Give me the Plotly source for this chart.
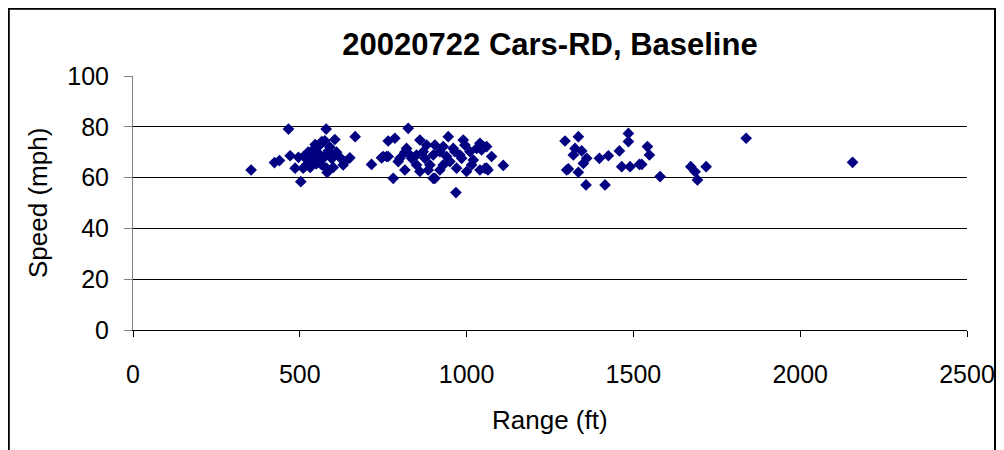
import plotly.graph_objects as go

# Range (ft) and Speed (mph)
range_ft = [
    354, 424, 439, 466, 471, 486, 496, 503, 510, 513, 520, 522, 525, 531, 535, 537,
    540, 546, 546, 549, 550, 555, 560, 560, 566, 566, 570, 575, 579, 579, 580, 582,
    585, 590, 596, 600, 605, 610, 620, 630, 635, 650, 666,
    715, 745, 750, 760, 765, 765, 780, 785, 795, 800, 815, 815, 820, 825, 825, 835,
    850, 850, 860, 860, 870, 875, 880, 885, 890, 900, 900, 905, 905, 920, 920, 930,
    930, 940, 945, 950, 960, 965, 968, 970, 980, 985, 990, 995, 1000, 1010, 1015,
    1020, 1030, 1040, 1040, 1045, 1050, 1055, 1060, 1060, 1064, 1075, 1110,
    1295, 1300, 1305, 1320, 1325, 1335, 1335, 1345, 1350, 1358, 1360, 1398, 1415,
    1425, 1458, 1465, 1485, 1485, 1490, 1518, 1525, 1542, 1548, 1580,
    1672, 1685, 1692, 1718, 1838, 2157,
]
speed_mph = [
    63.0, 65.9, 66.7, 79.1, 68.6, 63.7, 68.0, 58.4, 63.7, 68.5, 65.0, 67.0, 70.0, 64.0, 68.0, 68.5,
    71.0, 71.5, 73.0, 65.5, 65.6, 68.0, 72.8, 69.0, 74.2, 65.0, 67.6, 74.5, 79.1, 69.0, 63.7, 62.0,
    70.5, 72.0, 67.5, 64.0, 75.0, 70.0, 68.0, 65.0, 66.3, 67.8, 76.1,
    65.2, 67.8, 68.3, 68.3, 74.4, 68.3, 59.7, 75.5, 66.3, 67.6, 63.0, 70.0, 71.5, 79.4, 69.6, 67.6,
    68.9, 65.0, 74.8, 62.4, 70.2, 67.6, 72.8, 63.0, 65.0, 68.9, 59.7, 72.8, 59.7, 70.2, 63.0, 72.2,
    65.0, 68.3, 76.1, 66.3, 71.5, 70.2, 54.1, 63.7, 68.9, 67.6, 74.8, 72.8, 62.4, 70.2, 65.0,
    66.9, 71.5, 73.5, 63.0, 70.9, 72.2, 63.6, 72.2, 63.7, 63.0, 68.3, 64.8,
    74.4, 63.0, 63.4, 68.9, 71.5, 76.1, 62.1, 70.5, 65.6, 57.1, 67.6, 67.6, 57.1,
    68.6, 70.5, 64.3, 77.4, 74.2, 64.3, 65.2, 65.2, 72.2, 68.9, 60.4,
    64.3, 62.3, 59.1, 64.3, 75.5, 66.0,
]

x_ticks = [0, 500, 1000, 1500, 2000, 2500]
y_ticks = [0, 20, 40, 60, 80, 100]

FONT = "Liberation Sans, Arial, sans-serif"

# figure is placed at an 8px page offset
W, H = 988, 450
L, T = 125, 68
PW, PH = 834, 254
R = W - L - PW
B = H - T - PH


def px(fx):
    return (fx - L) / PW


def py(fy):
    return (T + PH - fy) / PH


fig = go.Figure()
fig.add_trace(go.Scatter(
    x=range_ft, y=speed_mph, mode="markers",
    marker=dict(symbol="diamond", size=9, color="#000080",
                line=dict(width=0)),
    showlegend=False,
))

fig.update_layout(
    width=W, height=H,
    margin=dict(l=L, r=R, t=T, b=B, autoexpand=False),
    paper_bgcolor="white", plot_bgcolor="white",
    font=dict(family=FONT, color="black", size=25),
    title=dict(text="<b>20020722 Cars-RD, Baseline</b>",
               x=0.5, xref="paper", xanchor="center",
               y=1 - 36 / H, yanchor="middle",
               font=dict(family=FONT, size=31, color="black")),
    xaxis=dict(range=[0, 2500], tickvals=x_ticks, ticks="outside", ticklen=6,
               tickcolor="black", showgrid=False, zeroline=False,
               showline=True, linecolor="black", linewidth=1,
               ticklabelstandoff=16, automargin=False,
               tickfont=dict(size=25), fixedrange=True),
    yaxis=dict(range=[0, 100], tickvals=y_ticks, ticks="outside", ticklen=8,
               tickcolor="#808080", showgrid=True, gridcolor="black", gridwidth=1,
               zeroline=False, showline=True, linecolor="#808080", linewidth=1,
               ticklabelstandoff=10, automargin=False,
               tickfont=dict(size=25), fixedrange=True),
    shapes=[dict(type="rect", xref="paper", yref="paper",
                 x0=px(0.8), x1=px(987),
                 y0=py(470), y1=py(0.8),
                 line=dict(color="black", width=2), fillcolor="rgba(0,0,0,0)",
                 layer="below")],
    annotations=[
        dict(text="Range (ft)", xref="paper", yref="paper",
             x=0.5, y=py(412), xanchor="center", yanchor="middle",
             showarrow=False, font=dict(family=FONT, size=26, color="black")),
        dict(text="Speed (mph)", xref="paper", yref="paper",
             x=px(30), y=py(195), xanchor="center",
             yanchor="middle", textangle=-90,
             showarrow=False, font=dict(family=FONT, size=26, color="black")),
    ],
)

fig.write_html("out.html")
